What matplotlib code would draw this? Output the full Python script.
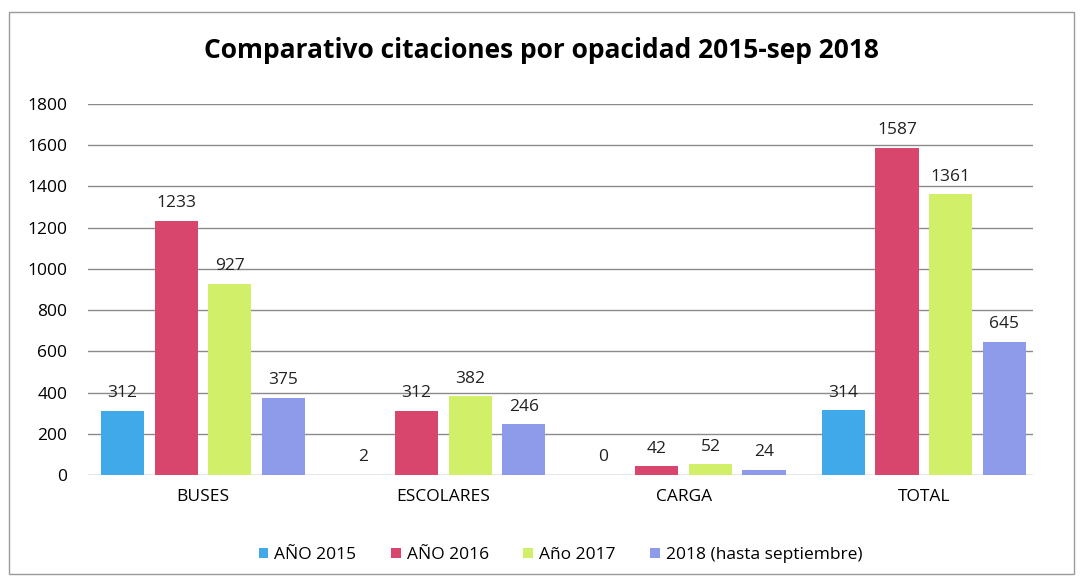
"""
Comparativo citaciones por opacidad 2015-sep 2018.
"""

import matplotlib.pyplot as plt
import numpy as np
from matplotlib.patches import Rectangle

categories = ["BUSES", "ESCOLARES", "CARGA", "TOTAL"]
series_names = ["AÑO 2015", "AÑO 2016", "Año 2017", "2018 (hasta septiembre)"]
ano_2015 = [312, 2, 0, 314]
ano_2016 = [1233, 312, 42, 1587]
ano_2017 = [927, 382, 52, 1361]
ano_2018 = [375, 246, 24, 645]
yticks = [0, 200, 400, 600, 800, 1000, 1200, 1400, 1600, 1800]

colors = ["#3fa9ea", "#d8466e", "#d2ef6a", "#8e9bea"]

plt.rcParams["font.family"] = ["Open Sans", "DejaVu Sans"]


def main():
    fig = plt.figure(figsize=(10.82, 5.83), dpi=100)
    ax = fig.add_axes([0.0813, 0.185, 0.8734, 0.637])

    x = np.arange(len(categories))
    step = 0.223
    width = 0.18
    data = [ano_2015, ano_2016, ano_2017, ano_2018]

    for i, (values, name, color) in enumerate(zip(data, series_names, colors)):
        pos = x + (i - 1.5) * step
        bars = ax.bar(pos, values, width, color=color, label=name, zorder=3)
        for bar, v in zip(bars, values):
            ax.annotate(
                str(v),
                (bar.get_x() + bar.get_width() / 2, v),
                xytext=(0, 7),
                textcoords="offset points",
                ha="center",
                va="bottom",
                fontsize=12.5,
                color="#222222",
            )

    ax.set_xlim(-0.479, 3.454)
    ax.set_ylim(0, 1800)
    ax.set_yticks(yticks)
    ax.set_xticks(x)
    ax.set_xticklabels(categories, fontsize=12.5)
    ax.tick_params(axis="y", labelsize=12.5, length=0, pad=15)
    ax.tick_params(axis="x", length=0, pad=10)
    ax.grid(axis="y", color="#8a8a8a", linewidth=1, zorder=0)
    for s in ax.spines.values():
        s.set_visible(False)

    fig.text(0.5, 0.914, "Comparativo citaciones por opacidad 2015-sep 2018",
             ha="center", va="center", fontsize=19, fontweight="bold")

    ax.legend(loc="center", bbox_to_anchor=(0.5, -0.215), ncol=4, frameon=False,
              fontsize=12.5, handlelength=0.55, handleheight=0.55,
              handletextpad=0.35, columnspacing=2.0)

    fig.patches.append(Rectangle((0.008, 0.015), 0.985, 0.965, transform=fig.transFigure,
                                 fill=False, edgecolor="#9a9a9a", linewidth=1))

    fig.savefig("out.png", dpi=100)
    plt.close(fig)


if __name__ == "__main__":
    main()
